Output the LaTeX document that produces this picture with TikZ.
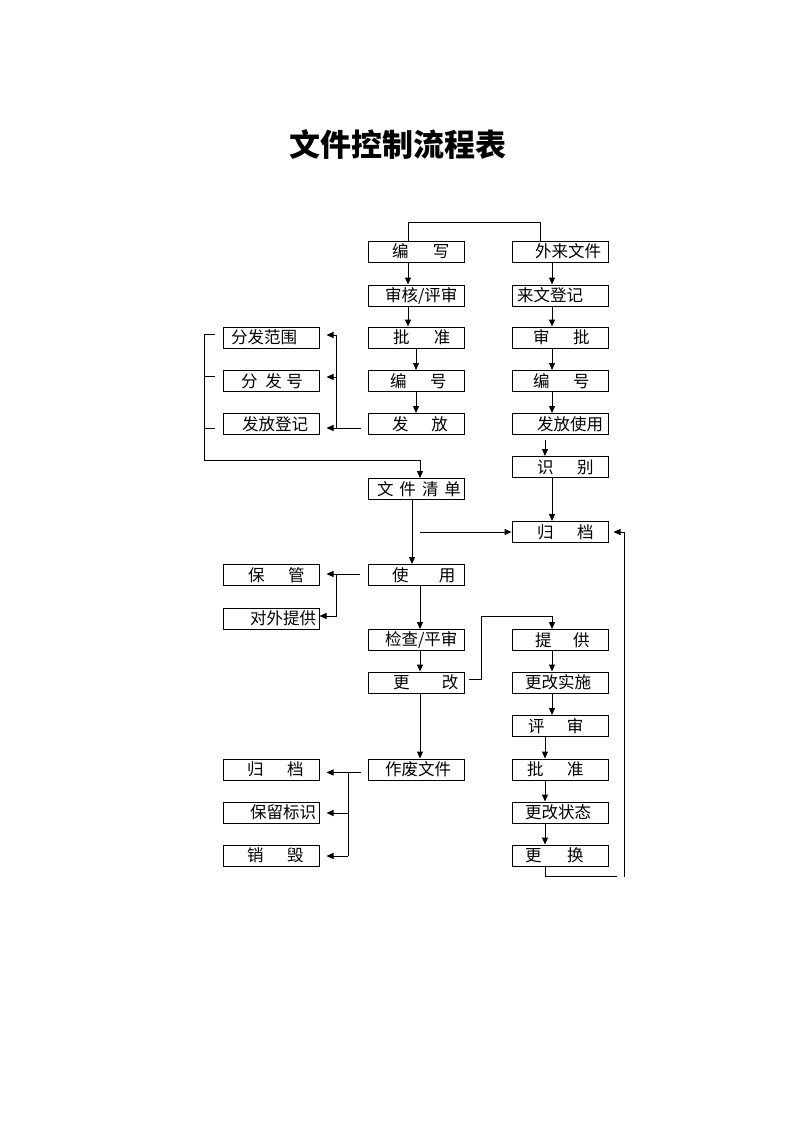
\documentclass[tikz,border=0pt]{standalone}
\usepackage{fontspec}
\newfontfamily\cjk{Noto Sans CJK SC}
\usetikzlibrary{arrows.meta,calc}
\newcommand\tb[2]{\makebox[96pt][l]{\hspace*{#1pt}#2}}
\tikzset{
  bx/.style={draw, line width=1pt, minimum width=96pt, minimum height=21pt, inner sep=0pt,
             font=\cjk\fontsize{16.5}{18}\selectfont},
  ln/.style={line width=1pt},
  arr/.style={line width=1pt, -{Triangle[length=7pt,width=6pt]}}
}
\begin{document}
\begin{tikzpicture}[x=1pt,y=-1pt]
\useasboundingbox (0,0) rectangle (794,1123);
\node[font=\cjk\bfseries\fontsize{31}{34}\selectfont] (title) at (397.5,144.5) {文件控制流程表};
% middle column
\node[bx] (bian)    at (416,251.5) {\tb{24}{编\hspace{24.5pt}写}};
\node[bx] (shenhe)  at (416,295.5) {\tb{17}{审核/评审}};
\node[bx] (pizhun)  at (416,337.5) {\tb{25}{批\hspace{24.5pt}准}};
\node[bx] (bianhao) at (416,381)   {\tb{22}{编\hspace{23.5pt}号}};
\node[bx] (fafang)  at (416,424)   {\tb{24}{发\hspace{23pt}放}};
\node[bx] (qingdan) at (416,489)   {\tb{9}{文\hspace{6pt}件\hspace{6pt}清\hspace{6pt}单}};
\node[bx] (shiyong) at (416,575)   {\tb{24}{使\hspace{30.5pt}用}};
\node[bx] (jiancha) at (416,640)   {\tb{17}{检查/平审}};
\node[bx] (genggai) at (416,682.5) {\tb{25}{更\hspace{32.5pt}改}};
\node[bx] (zuofei)  at (416,769.5) {\tb{17}{作废文件}};
% right column
\node[bx] (wailai)    at (560,251.5) {\tb{23}{外来文件}};
\node[bx] (laiwen)    at (560,295.5) {\tb{5}{来文登记}};
\node[bx] (shenpi)    at (560,337.5) {\tb{21}{审\hspace{23.5pt}批}};
\node[bx] (bianhaoR)  at (560,381)   {\tb{21}{编\hspace{23.5pt}号}};
\node[bx] (fafangR)   at (560,424)   {\tb{25}{发放使用}};
\node[bx] (shibie)    at (560,467)   {\tb{25}{识\hspace{23.5pt}别}};
\node[bx] (guidangR)  at (560,532)   {\tb{25}{归\hspace{23.5pt}档}};
\node[bx] (tigong)    at (560,640)   {\tb{23}{提\hspace{21.5pt}供}};
\node[bx] (shishi)    at (560,682.5) {\tb{13}{更改实施}};
\node[bx] (pingshen)  at (560,726)   {\tb{16}{评\hspace{22.5pt}审}};
\node[bx] (pizhunR)   at (560,769.5) {\tb{15}{批\hspace{23.5pt}准}};
\node[bx] (zhuangtai) at (560,812.5) {\tb{13}{更改状态}};
\node[bx] (genghuan)  at (560,855.5) {\tb{13}{更\hspace{25.5pt}换}};
% left column
\node[bx] (fanwei)   at (271,337.5) {\tb{8}{分发范围}};
\node[bx] (fenfahao) at (271,381)   {\tb{18}{分\hspace{8pt}发\hspace{4.5pt}号}};
\node[bx] (dengji)   at (271,424)   {\tb{19}{发放登记}};
\node[bx] (baoguan)  at (271,575)   {\tb{25}{保\hspace{23.5pt}管}};
\node[bx] (duiwai)   at (271,618.5) {\tb{27}{对外提供}};
\node[bx] (guidangL) at (271,769.5) {\tb{24}{归\hspace{23.5pt}档}};
\node[bx] (baoliu)   at (271,812.5) {\tb{27}{保留标识}};
\node[bx] (xiaohui)  at (271,855.5) {\tb{24}{销\hspace{23.5pt}毁}};
% top connector
\draw[ln] (bian.north -| 408,0) -- (408,223) -- (540,223) -- (wailai.north -| 540,0);
% middle chain
\draw[arr] (bian.south -| 408,0) -- (shenhe.north -| 408,0);
\draw[arr] (shenhe.south -| 408,0) -- (pizhun.north -| 408,0);
\draw[arr] (pizhun.south) -- (bianhao.north);
\draw[arr] (bianhao.south) -- (fafang.north);
% right chain
\draw[arr] (wailai.south -| 552,0) -- (laiwen.north -| 552,0);
\draw[arr] (laiwen.south -| 552,0) -- (shenpi.north -| 552,0);
\draw[arr] (shenpi.south -| 552,0) -- (bianhaoR.north -| 552,0);
\draw[arr] (bianhaoR.south -| 552,0) -- (fafangR.north -| 552,0);
\draw[arr] ($(fafangR.south -| 545,0)+(0,5)$) -- (shibie.north -| 545,0);
\draw[arr] (shibie.south -| 552,0) -- (guidangR.north -| 552,0);
% distribution
\draw[arr] ($(fafang.west)+(-7,4)$) -| (336,335) -- ($(fanwei.east)+(7,-2.5)$);
\draw[arr] (336,377) -- ($(fenfahao.east)+(7,-4)$);
\draw[arr] (336,428) -- ($(dengji.east)+(7,4)$);
% left bracket
\draw[ln] ($(fanwei.west)+(-8,-3.5)$) -- (204,334);
\draw[ln] ($(fenfahao.west)+(-8,-5)$) -- (204,376);
\draw[ln] ($(dengji.west)+(-8,4)$) -- (204,428);
\draw[arr] (204,334) -- (204,460) -| (qingdan.north -| 420,0);
% list to use, archive
\draw[arr] (qingdan.south -| 412,0) -- (shiyong.north -| 412,0);
\draw[arr] (420,532) -- (guidangR.west);
% use
\draw[arr] ($(shiyong.west)+(-8,-1)$) -- ($(baoguan.east)+(7,-1)$);
\draw[arr] (336,574) |- ($(duiwai.east)+(0,-2.5)$);
\draw[arr] (shiyong.south -| 420,0) -- (jiancha.north -| 420,0);
\draw[arr] (jiancha.south -| 420,0) -- (genggai.north -| 420,0);
\draw[arr] (genggai.south -| 420,0) -- (zuofei.north -| 420,0);
% change branch
\draw[arr] ($(genggai.east)+(4,-3.5)$) -- (481,679) |- (552,616) -- (tigong.north -| 552,0);
\draw[arr] (tigong.south -| 552,0) -- (shishi.north -| 552,0);
\draw[arr] (shishi.south -| 552,0) -- (pingshen.north -| 552,0);
\draw[arr] (pingshen.south -| 545,0) -- (pizhunR.north -| 545,0);
\draw[arr] (pizhunR.south -| 545,0) -- (zhuangtai.north -| 545,0);
\draw[arr] (zhuangtai.south -| 545,0) -- (genghuan.north -| 545,0);
\draw[ln] (genghuan.south -| 545,0) |- (617,876);
\draw[arr] (624,877) -- (624,532) -- ($(guidangR.east)+(5,0)$);
% obsolete
\draw[ln] ($(zuofei.west)+(-7,3)$) -- (348,772.5) -- (348,856);
\draw[arr] (348,772.5) -- ($(guidangL.east)+(7,3)$);
\draw[arr] (348,813) -- ($(baoliu.east)+(7,0.5)$);
\draw[arr] (348,856) -- ($(xiaohui.east)+(7,0.5)$);
\end{tikzpicture}
\end{document}
